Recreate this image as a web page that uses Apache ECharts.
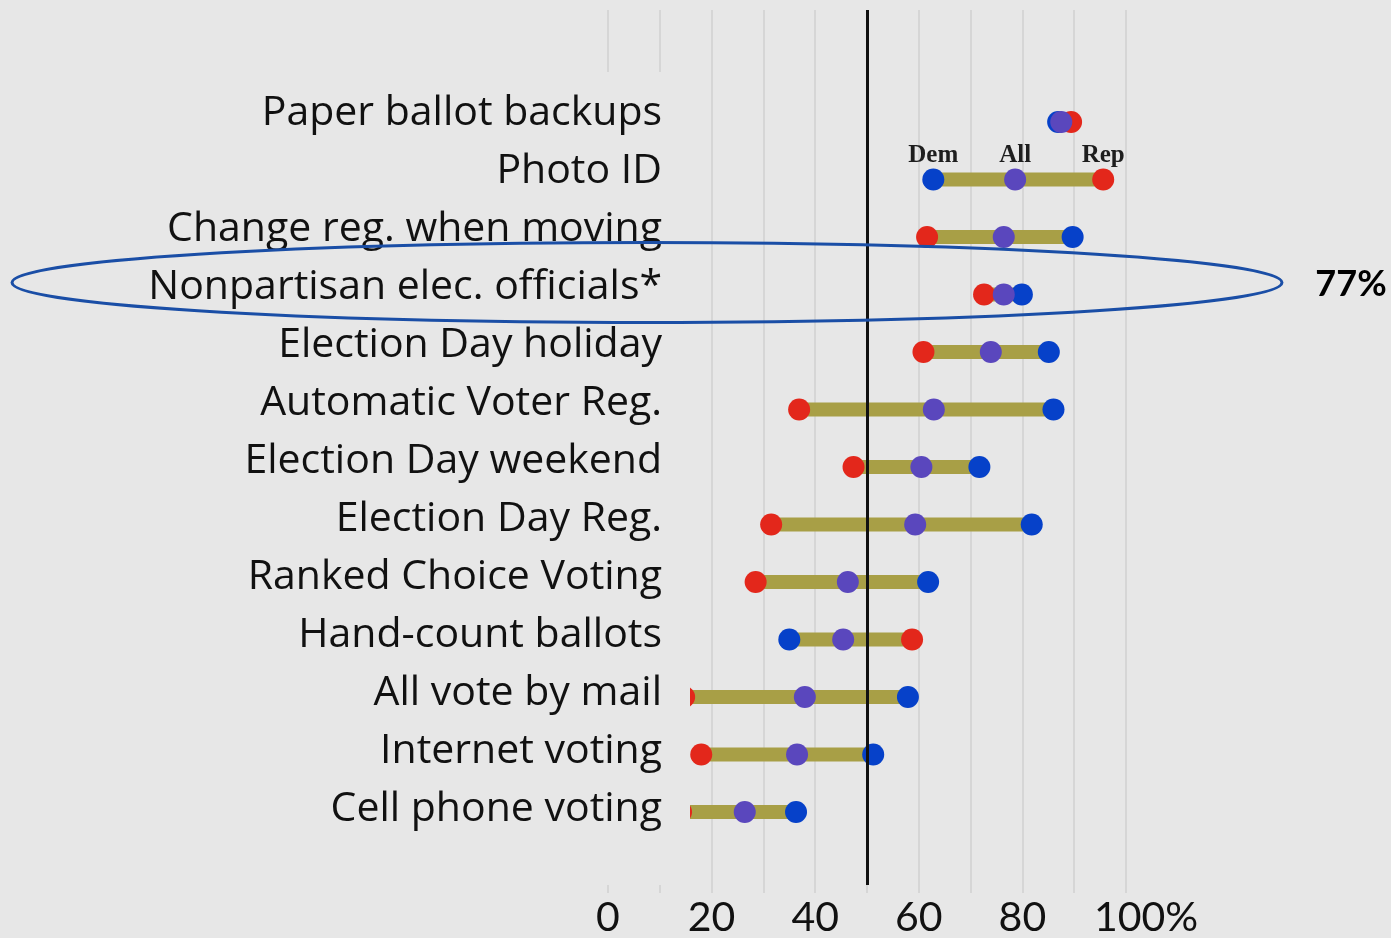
<!DOCTYPE html>
<html>
<head>
<meta charset="utf-8">
<script src="https://cdn.jsdelivr.net/npm/echarts@6/dist/echarts.min.js"></script>
<style>
  html, body { margin: 0; padding: 0; background: #e7e7e7; }
  #chart { width: 1391px; height: 938px; }
</style>
</head>
<body>
<div id="chart"></div>
<script>
const rows = [
  "Paper ballot backups",
  "Photo ID",
  "Change reg. when moving",
  "Nonpartisan elec. officials*",
  "Election Day holiday",
  "Automatic Voter Reg.",
  "Election Day weekend",
  "Election Day Reg.",
  "Ranked Choice Voting",
  "Hand-count ballots",
  "All vote by mail",
  "Internet voting",
  "Cell phone voting",
];
const dem = [86.9, 62.8, 89.7, 79.9, 85.1, 86.0, 71.7, 81.8, 61.8, 35.0, 57.9, 51.2, 36.3];
const all = [87.5, 78.6, 76.4, 76.4, 73.9, 62.9, 60.5, 59.3, 46.3, 45.4, 38.0, 36.5, 26.4];
const rep = [89.4, 95.6, 61.6, 72.6, 60.9, 36.9, 47.4, 31.5, 28.5, 58.7, 14.7, 18.0, 14.1];
const xTickLabels = [0, 20, 40, 60, 80, 100];
const midline = 50;
const labelRow = 1; // Photo ID carries the Dem / All / Rep key
const highlightText = "77%";

const BG = "#e7e7e7";
const RED = "#e3271b";
const BLUE = "#0641c9";
const PURPLE = "#5a47bd";
const OLIVE = "#a89f46";
const SANS = "Lato, 'Open Sans', sans-serif";
const ROWFONT = "'Open Sans', Lato, sans-serif";

const chart = echarts.init(document.getElementById("chart"), null, { renderer: "canvas" });

function dots(values, name, color) {
  return {
    type: "scatter",
    name,
    xAxisIndex: 1,
    yAxisIndex: 1,
    z: 4,
    symbolSize: 22,
    itemStyle: { color, opacity: 1 },
    data: values.map((v, i) => {
      if (i !== labelRow) return [v, i];
      return {
        value: [v, i],
        label: {
          show: true,
          position: "top",
          distance: 0,
          formatter: name,
          color: "#1e1e1e",
          fontFamily: "'Liberation Serif', serif",
          fontWeight: "bold",
          fontSize: 25,
        },
      };
    }),
  };
}

const spans = rows.map((_, i) => [
  Math.min(dem[i], all[i], rep[i]),
  Math.max(dem[i], all[i], rep[i]),
  i,
]);

const option = {
  backgroundColor: BG,
  animation: false,
  grid: [
    // gridlines + x axis labels
    { left: 608, right: 265, top: 10, bottom: 41 },
    // dumbbells
    { left: 608, right: 265, top: 93.25, height: 747.5 },
    // row labels
    { left: 670, right: 265, top: 84, height: 754 },
  ],
  xAxis: [
    {
      gridIndex: 0,
      type: "value",
      min: 0,
      max: 100,
      interval: 10,
      axisLine: { show: false },
      axisTick: { show: false },
      splitLine: { show: true, lineStyle: { color: "#d6d6d6", width: 2 } },
      axisLabel: {
        margin: 4,
        color: "#111",
        fontFamily: SANS,
        fontSize: 41,
        formatter: (v) => {
          if (!xTickLabels.includes(v)) return "";
          return v === 100 ? "{p|100%}" : String(v);
        },
        rich: { p: { fontFamily: SANS, fontSize: 41, color: "#111", padding: [0, 0, 0, 40] } },
      },
    },
    { gridIndex: 1, type: "value", min: 0, max: 100, show: false },
    { gridIndex: 2, type: "value", min: 0, max: 100, show: false },
  ],
  yAxis: [
    { gridIndex: 0, type: "value", min: 0, max: 1, show: false },
    { gridIndex: 1, type: "category", inverse: true, data: rows, show: false },
    {
      gridIndex: 2,
      type: "category",
      inverse: true,
      data: rows,
      z: 6,
      axisLine: { show: false },
      axisTick: { show: false },
      axisLabel: { margin: 8, color: "#111", fontFamily: ROWFONT, fontSize: 41 },
    },
  ],
  series: [
    {
      type: "custom",
      xAxisIndex: 1,
      yAxisIndex: 1,
      z: 2,
      data: spans,
      renderItem: (params, api) => {
        const lo = api.coord([api.value(0), api.value(2)]);
        const hi = api.coord([api.value(1), api.value(2)]);
        return {
          type: "rect",
          shape: { x: lo[0], y: lo[1] - 7, width: hi[0] - lo[0], height: 14 },
          style: { fill: OLIVE },
        };
      },
    },
    {
      type: "line",
      xAxisIndex: 0,
      yAxisIndex: 0,
      z: 3,
      data: [],
      markLine: {
        silent: true,
        symbol: "none",
        label: { show: false },
        lineStyle: { color: "#111", width: 3, type: "solid" },
        data: [[{ coord: [midline, 1] }, { coord: [midline, 0.009] }]],
      },
    },
    dots(rep, "Rep", RED),
    dots(dem, "Dem", BLUE),
    dots(all, "All", PURPLE),
  ],
  graphic: [
    {
      // label panel sits over the left end of the plot
      type: "rect",
      z: 5,
      silent: true,
      shape: { x: 0, y: 72, width: 690, height: 813 },
      style: { fill: BG },
    },
    {
      type: "ellipse",
      z: 7,
      silent: true,
      shape: { cx: 647, cy: 282.5, rx: 635, ry: 40 },
      style: { fill: "none", stroke: "#1a4ea6", lineWidth: 3 },
    },
    {
      type: "text",
      z: 7,
      x: 1351,
      y: 284,
      style: {
        text: highlightText,
        fill: "#000",
        font: "bold 36px " + SANS,
        align: "center",
        verticalAlign: "middle",
      },
    },
  ],
};

chart.setOption(option);
</script>
</body>
</html>
